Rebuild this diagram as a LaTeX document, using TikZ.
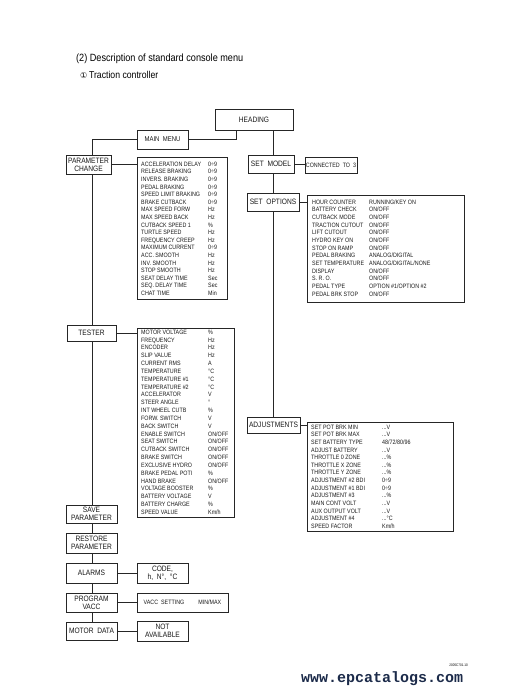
\documentclass[tikz,border=0pt]{standalone}
\usepackage{fontspec}
\setmainfont{Liberation Sans}
\newfontfamily\cad[FakeStretch=0.85]{Liberation Sans}
\newfontfamily\ttl[FakeStretch=0.87]{Liberation Sans}
\newfontfamily\symf{DejaVu Sans}
\newfontfamily\wmf{Liberation Mono}
\definecolor{wmcol}{HTML}{1C2B4A}
\newcommand\dts{...}
\begin{document}
\begin{tikzpicture}[x=1pt,y=-1pt,
  box/.style={draw=black!85, line width=0.6pt, inner sep=0pt, align=center, text=black!90,
              font=\cad\fontsize{7.8}{8}\selectfont},
  item/.style={inner sep=0pt, anchor=west, text=black!90, font=\cad\fontsize{6.3}{7}\selectfont,
               text height=4.5pt, text depth=0pt},
  link/.style={draw=black!85, line width=0.6pt}]
\useasboundingbox (0,0) rectangle (521,693);
\fill[white] (0,0) rectangle (521,693);

% titles
\node[anchor=base west, inner sep=0pt, font=\ttl\fontsize{10.5}{12}\selectfont] (title) at (76,61.5) {(2) Description of standard console menu};
\node[anchor=base west, inner sep=0pt, font=\ttl\fontsize{10}{12}\selectfont] (subtitle) at (80,78.3) {{\symf\fontsize{8}{9}\selectfont ①}\,Traction controller};

% main boxes
\node[box, minimum width=78pt, minimum height=21pt] (heading) at (254,119.5) {HEADING};
\node[box, minimum width=51pt, minimum height=19pt, font=\cad\fontsize{7}{8}\selectfont] (mainmenu) at (162.5,139.5) {MAIN\ \ MENU};
\node[box, minimum width=45pt, minimum height=19pt] (pc) at (88.5,164.5) {PARAMETER\\CHANGE};
\node[box, minimum width=49pt, minimum height=16pt] (tester) at (91.5,333) {TESTER};
\node[box, minimum width=51pt, minimum height=18pt] (save) at (91.5,514) {SAVE\\PARAMETER};
\node[box, minimum width=51pt, minimum height=20pt] (restore) at (91.5,543) {RESTORE\\PARAMETER};
\node[box, minimum width=51pt, minimum height=20pt] (alarms) at (91.5,573) {ALARMS};
\node[box, minimum width=51pt, minimum height=20pt] (code) at (162.5,573) {CODE,\\h,\ \ N°,\ \ °C};
\node[box, minimum width=51pt, minimum height=19pt] (program) at (91.5,602.5) {PROGRAM\\VACC};
\node[box, minimum width=91pt, minimum height=19pt, font=\cad\fontsize{6.3}{7}\selectfont] (vacc) at (182.5,602.5) {VACC\ \ SETTING\hspace{14pt}MIN/MAX};
\node[box, minimum width=51pt, minimum height=18pt] (motor) at (91.5,631) {MOTOR\ \ DATA};
\node[box, minimum width=51pt, minimum height=20pt] (notavail) at (162.5,631) {NOT\\AVAILABLE};

\node[box, minimum width=46pt, minimum height=18pt] (setmodel) at (271,164) {SET\ \ MODEL};
\node[box, minimum width=52pt, minimum height=16pt, font=\cad\fontsize{6.3}{7}\selectfont] (connected) at (331,165) {CONNECTED\ \ TO\ \ 3};
\node[box, minimum width=52pt, minimum height=18pt] (setoptions) at (273,202) {SET\ \ OPTIONS};
\node[box, minimum width=53pt, minimum height=16pt] (adjust) at (273.5,425) {ADJUSTMENTS};

% list boxes
\node[box, minimum width=90pt, minimum height=142pt] (plist) at (182,228) {};
\node[box, minimum width=97pt, minimum height=189pt] (tlist) at (185.5,422.5) {};
\node[box, minimum width=157pt, minimum height=107pt] (olist) at (385.5,248.5) {};
\node[box, minimum width=146pt, minimum height=109pt] (alist) at (380,476.5) {};

% list contents
\foreach \n/\v [count=\i] in {ACCELERATION DELAY/0÷9, RELEASE BRAKING/0÷9, INVERS. BRAKING/0÷9,
  PEDAL BRAKING/0÷9, SPEED LIMIT BRAKING/0÷9, BRAKE CUTBACK/0÷9, MAX SPEED FORW/Hz,
  MAX SPEED BACK/Hz, CUTBACK SPEED 1/\%, TURTLE SPEED/Hz, FREQUENCY CREEP/Hz,
  MAXIMUM CURRENT/0÷9, ACC. SMOOTH/Hz, INV. SMOOTH/Hz, STOP SMOOTH/Hz,
  SEAT DELAY TIME/Sec, SEQ. DELAY TIME/Sec, CHAT TIME/Min} {
  \node[item] (pn\i) at (141,{164+7.6*(\i-1)}) {\n};
  \node[item] (pv\i) at (208,{164+7.6*(\i-1)}) {\v};
}
\foreach \n/\v [count=\i] in {MOTOR VOLTAGE/\%, FREQUENCY/Hz, ENCODER/Hz, SLIP VALUE/Hz,
  CURRENT RMS/A, TEMPERATURE/°C, TEMPERATURE \#1/°C, TEMPERATURE \#2/°C, ACCELERATOR/V,
  STEER ANGLE/°, INT WHEEL CUTB/\%, FORW. SWITCH/V, BACK SWITCH/V, ENABLE SWITCH/{ON/OFF},
  SEAT SWITCH/{ON/OFF}, CUTBACK SWITCH/{ON/OFF}, BRAKE SWITCH/{ON/OFF}, EXCLUSIVE HYDRO/{ON/OFF},
  BRAKE PEDAL POTI/\%, HAND BRAKE/{ON/OFF}, VOLTAGE BOOSTER/\%, BATTERY VOLTAGE/V,
  BATTERY CHARGE/\%, SPEED VALUE/{Km/h}} {
  \node[item] (tn\i) at (141,{332+7.83*(\i-1)}) {\n};
  \node[item] (tv\i) at (208,{332+7.83*(\i-1)}) {\v};
}
\foreach \n/\v [count=\i] in {HOUR COUNTER/{RUNNING/KEY ON}, BATTERY CHECK/{ON/OFF},
  CUTBACK MODE/{ON/OFF}, TRACTION CUTOUT/{ON/OFF}, LIFT CUTOUT/{ON/OFF}, HYDRO KEY ON/{ON/OFF},
  STOP ON RAMP/{ON/OFF}, PEDAL BRAKING/{ANALOG/DIGITAL}, SET TEMPERATURE/{ANALOG/DIGITAL/NONE},
  DISPLAY/{ON/OFF}, S. R. O./{ON/OFF}, PEDAL TYPE/{OPTION \#1/OPTION \#2}, PEDAL BRK STOP/{ON/OFF}} {
  \node[item] (on\i) at (312,{202+7.67*(\i-1)}) {\n};
  \node[item] (ov\i) at (369,{202+7.67*(\i-1)}) {\v};
}
\foreach \n/\v [count=\i] in {SET POT BRK MIN/\dts V, SET POT BRK MAX/\dts V,
  SET BATTERY TYPE/{48/72/80/96}, ADJUST BATTERY/\dts V, THROTTLE 0 ZONE/\dts\%,
  THROTTLE X ZONE/\dts\%, THROTTLE Y ZONE/\dts\%, ADJUSTMENT \#2 BDI/0÷9,
  ADJUSTMENT \#1 BDI/0÷9, ADJUSTMENT \#3/\dts\%, MAIN CONT VOLT/\dts V,
  AUX OUTPUT VOLT/\dts V, ADJUSTMENT \#4/\dts °C, SPEED FACTOR/{Km/h}} {
  \node[item] (an\i) at (311,{427+7.62*(\i-1)}) {\n};
  \node[item] (av\i) at (382,{427+7.62*(\i-1)}) {\v};
}

% spines
\coordinate (spine) at (92,0);
\coordinate (rspine) at (273,0);
\coordinate (hm) at (236,0);
\draw[link] (mainmenu.east) -| (heading.south -| hm);
\draw[link] (mainmenu.west) -| (pc.north -| spine);
\draw[link] (pc.south -| spine) -- (tester.north -| spine);
\draw[link] (tester.south -| spine) -- (save.north -| spine);
\draw[link] (save.south -| spine) -- (restore.north -| spine);
\draw[link] (restore.south -| spine) -- (alarms.north -| spine);
\draw[link] (alarms.south -| spine) -- (program.north -| spine);
\draw[link] (program.south -| spine) -- (motor.north -| spine);
\draw[link] (heading.south -| rspine) -- (setmodel.north -| rspine);
\draw[link] (setmodel.south -| rspine) -- (setoptions.north -| rspine);
\draw[link] (setoptions.south -| rspine) -- (adjust.north -| rspine);

% branches
\draw[link] (pc.east) -- (pc.east -| plist.west);
\draw[link] (tester.east) -- (tester.east -| tlist.west);
\draw[link] (alarms) -- (code);
\draw[link] (program) -- (vacc);
\draw[link] (motor) -- (notavail);
\draw[link] (setmodel.east) -- (setmodel.east -| connected.west);
\draw[link] (setoptions.east) -- (setoptions.east -| olist.west);
\draw[link] (adjust.east) -- (adjust.east -| alist.west);

% footer
\node[anchor=base east, inner sep=0pt, font=\cad\fontsize{3.6}{4}\selectfont] (docno) at (468,666) {2005C701.10};
\node[anchor=base west, inner sep=0pt, text=wmcol, font=\wmf\bfseries\fontsize{15}{16}\selectfont] (wm) at (301,682) {www.epcatalogs.com};
\end{tikzpicture}
\end{document}
